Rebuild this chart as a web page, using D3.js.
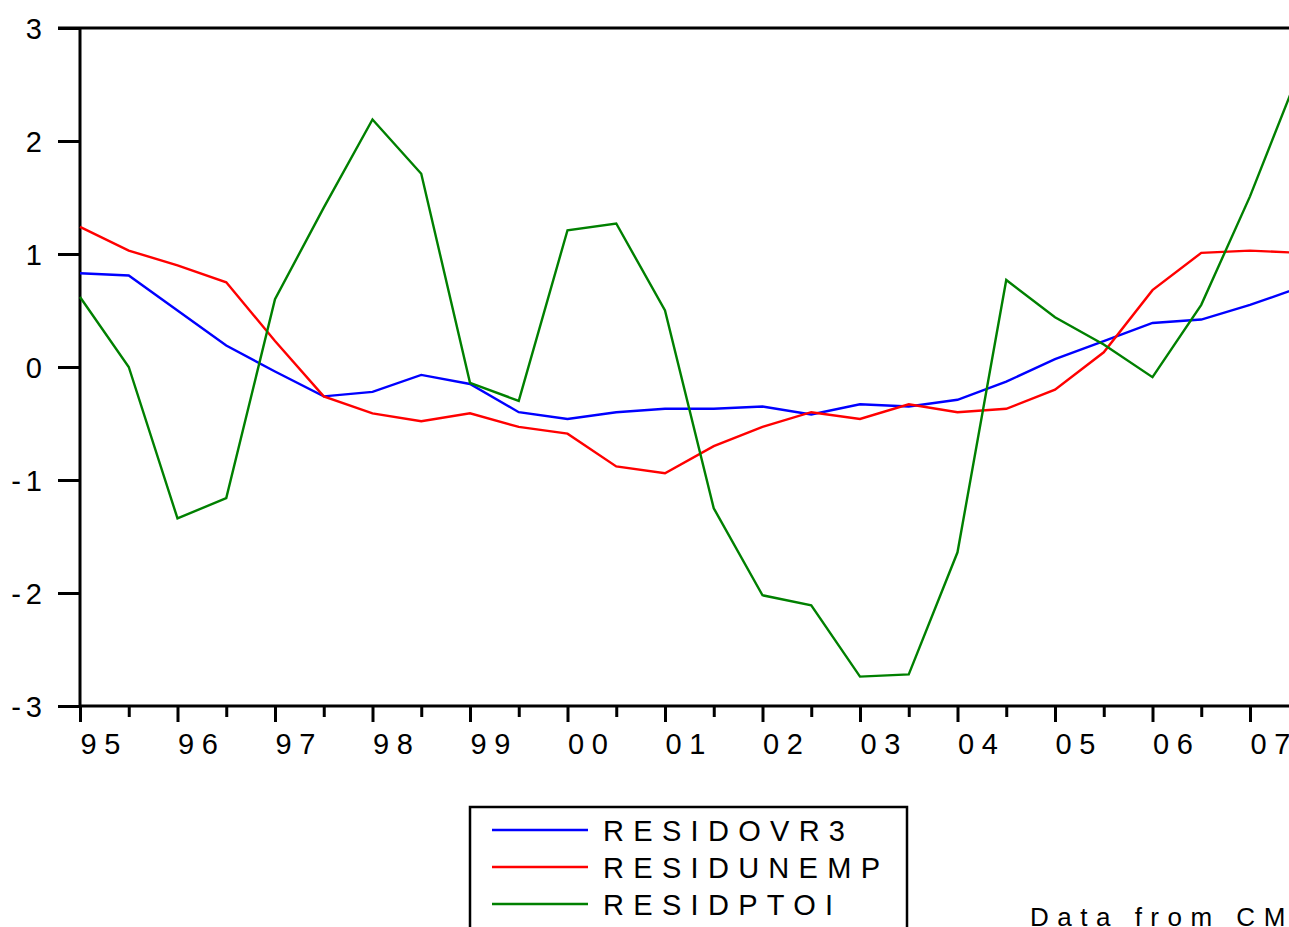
<!DOCTYPE html>
<html>
<head>
<meta charset="utf-8">
<script src="https://cdn.jsdelivr.net/npm/d3@7"></script>
<style>
  html, body { margin: 0; padding: 0; background: #fff; overflow: hidden; }
  svg { display: block; font-family: "Liberation Sans", Arial, sans-serif; }
</style>
</head>
<body>
<div id="chart"></div>
<script>
// half-yearly periods, 1995H1 .. 2007H2
var periods = ["95H1","95H2","96H1","96H2","97H1","97H2","98H1","98H2","99H1","99H2",
               "00H1","00H2","01H1","01H2","02H1","02H2","03H1","03H2","04H1","04H2",
               "05H1","05H2","06H1","06H2","07H1","07H2"];
var yearLabels = ["95","96","97","98","99","00","01","02","03","04","05","06","07"];
var yTicks = [-3, -2, -1, 0, 1, 2, 3];

var residOvr3 = [0.83,0.81,0.50,0.19,-0.04,-0.26,-0.22,-0.07,-0.15,-0.40,-0.46,-0.40,-0.37,
                 -0.37,-0.35,-0.42,-0.33,-0.35,-0.29,-0.13,0.07,0.23,0.39,0.42,0.55,0.70];
var residUnemp = [1.24,1.03,0.90,0.75,0.23,-0.26,-0.41,-0.48,-0.41,-0.53,-0.59,-0.88,-0.94,
                  -0.70,-0.53,-0.40,-0.46,-0.33,-0.40,-0.37,-0.20,0.13,0.68,1.01,1.03,1.01];
var residPtoi = [0.62,0.00,-1.34,-1.16,0.60,1.41,2.19,1.71,-0.14,-0.30,1.21,1.27,0.50,
                 -1.25,-2.02,-2.11,-2.74,-2.72,-1.64,0.77,0.44,0.20,-0.09,0.55,1.51,2.60];

var seriesNames = ["RESIDOVR3", "RESIDUNEMP", "RESIDPTOI"];
var seriesColors = ["#0000ff", "#ff0000", "#008000"];
var note = "Data from CM";

var W = 1289, H = 927;
var plotLeft = 80, plotTop = 28, plotBottom = 706;

var svg = d3.select("#chart").append("svg")
    .attr("width", W).attr("height", H);

// one half-year step is ~48.75px, index 24 (07H1) sits at x=1250
var x = d3.scaleLinear().domain([0, 24]).range([plotLeft, 1250]);
var y = d3.scaleLinear().domain([-3, 3]).range([plotBottom, plotTop]);

// top frame line
svg.append("line")
   .attr("x1", 58).attr("x2", W + 10)
   .attr("y1", plotTop).attr("y2", plotTop)
   .attr("stroke", "#000").attr("stroke-width", 3);

// y axis (plain hyphen for negatives, like the original)
var yAxis = svg.append("g")
   .attr("transform", "translate(" + plotLeft + ",0)")
   .call(d3.axisLeft(y).tickValues(yTicks).tickSize(22)
           .tickFormat(function(d) { return String(d); }));
yAxis.select(".domain").attr("stroke-width", 3).attr("d", "M0," + plotTop + "V" + plotBottom);
yAxis.selectAll(".tick line").attr("stroke-width", 3);
yAxis.selectAll(".tick text")
     .attr("x", -33).attr("dy", "0.36em")
     .style("font-size", "29px")
     .style("letter-spacing", "5px")
     .attr("fill", "#000");

// x axis: major ticks on years, minor on half-years
var evenIdx = periods.map(function(d, i) { return i; }).filter(function(i) { return i % 2 == 0; });
var oddIdx = periods.map(function(d, i) { return i; }).filter(function(i) { return i % 2 == 1; });

var xMajor = svg.append("g")
   .attr("transform", "translate(0," + plotBottom + ")")
   .call(d3.axisBottom(x).tickValues(evenIdx).tickSize(16)
           .tickFormat(function(d) { return yearLabels[d / 2]; }));
xMajor.select(".domain").attr("stroke-width", 3).attr("d", "M" + plotLeft + ",0H" + (W + 10));
xMajor.selectAll(".tick line").attr("stroke-width", 3);
xMajor.selectAll(".tick text")
      .attr("y", 48).attr("dy", 0)
      .attr("text-anchor", "start")
      .style("font-size", "29px")
      .style("letter-spacing", "7.5px")
      .attr("fill", "#000");

var xMinor = svg.append("g")
   .attr("transform", "translate(0," + plotBottom + ")")
   .call(d3.axisBottom(x).tickValues(oddIdx).tickSize(11).tickFormat(""));
xMinor.select(".domain").remove();
xMinor.selectAll(".tick line").attr("stroke-width", 3);

// series lines
var allSeries = [residOvr3, residUnemp, residPtoi];
var line = d3.line()
    .x(function(d, i) { return x(i); })
    .y(function(d) { return y(d); });

svg.selectAll("path.series")
   .data(allSeries)
   .enter()
   .append("path")
   .attr("class", "series")
   .attr("d", line)
   .attr("fill", "none")
   .attr("stroke", function(d, i) { return seriesColors[i]; })
   .attr("stroke-width", 2.4)
   .attr("stroke-linejoin", "miter");

// legend box (runs off the bottom of the picture)
var legend = svg.append("g");
legend.append("rect")
      .attr("x", 470).attr("y", 807)
      .attr("width", 437).attr("height", 160)
      .attr("fill", "none").attr("stroke", "#000").attr("stroke-width", 2.5);

var items = legend.selectAll("g.item")
      .data(seriesNames)
      .enter()
      .append("g")
      .attr("class", "item")
      .attr("transform", function(d, i) { return "translate(0," + (830 + i * 37) + ")"; });

items.append("line")
     .attr("x1", 492).attr("x2", 588)
     .attr("stroke", function(d, i) { return seriesColors[i]; })
     .attr("stroke-width", 2.4);

items.append("text")
     .attr("x", 603).attr("y", 11)
     .style("font-size", "29px")
     .style("letter-spacing", "9.3px")
     .text(function(d) { return d; });

// source note, clipped by the right edge
svg.append("text")
   .attr("x", 1030).attr("y", 926)
   .style("font-size", "26px")
   .style("letter-spacing", "8.5px")
   .text(note);
</script>
</body>
</html>
